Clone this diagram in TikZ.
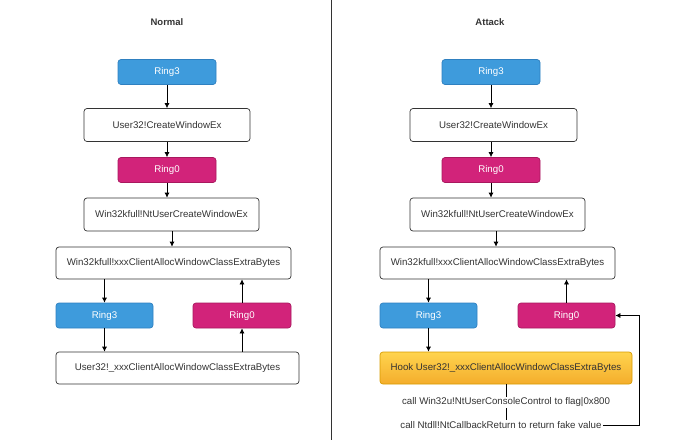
\documentclass[tikz,border=0pt]{standalone}
\usepackage{xcolor}
\usepackage{fontspec}
\setmainfont{Liberation Sans}
\usepackage{tikz}
\usetikzlibrary{shapes,arrows,positioning,calc,arrows.meta}

\definecolor{ringblue}{HTML}{3E9BDC}
\definecolor{ringblueline}{HTML}{2F80C0}
\definecolor{ringmag}{HTML}{D2237A}
\definecolor{ringmagline}{HTML}{A8185E}
\definecolor{hooktop}{HTML}{FFD44E}
\definecolor{hookbot}{HTML}{F4AD2C}
\definecolor{hookline}{HTML}{D79B00}
\definecolor{txtgray}{HTML}{333333}

\begin{document}
\begin{tikzpicture}[
      x=1pt,y=-1pt,
      font=\fontsize{9.7}{11}\selectfont,
      box/.style={rectangle,draw=txtgray,rounded corners=3pt,align=center,
        inner sep=0pt,minimum height=33pt,text=txtgray,line width=0.7pt},
      ringthree/.style={box,fill=ringblue,draw=ringblueline,text=white,
        minimum width=98pt,minimum height=25pt},
      ringzero/.style={box,fill=ringmag,draw=ringmagline,text=white,
        minimum width=98pt,minimum height=25pt},
      hook/.style={box,top color=hooktop,bottom color=hookbot,draw=hookline},
      title/.style={font=\fontsize{9.5}{11}\selectfont\bfseries,text=txtgray},
      lbl/.style={fill=white,inner sep=1pt,text=txtgray},
      arrow/.style={-{Latex[length=5pt,width=5pt]},line width=0.7pt}
      ]

      \useasboundingbox (0,0) rectangle (680,440);

      \draw[line width=0.7pt,txtgray] (331,0) -- (331,440);

      \node[title] (normal) at (167,22) {Normal};
      \node[title] (attack) at (490,22) {Attack};

      \node[ringthree] (n_r3a) at (167,72) {Ring3};
      \node[box,minimum width=166pt] (n_cwe) at (167,125) {User32!CreateWindowEx};
      \node[ringzero] (n_r0a) at (167,170) {Ring0};
      \node[box,minimum width=175pt] (n_nt) at (171.5,214.5) {Win32kfull!NtUserCreateWindowEx};
      \node[box,minimum width=235pt,minimum height=32pt] (n_xxx) at (173.5,263) {Win32kfull!xxxClientAllocWindowClassExtraBytes};
      \node[ringthree,minimum width=97pt] (n_r3b) at (104.5,315.5) {Ring3};
      \node[ringzero] (n_r0b) at (242,315.5) {Ring0};
      \node[box,minimum width=243pt,minimum height=32pt] (n_user) at (177.5,368) {User32!\_xxxClientAllocWindowClassExtraBytes};

      \draw[arrow] (n_r3a) -- (n_cwe);
      \draw[arrow] (n_cwe) -- (n_r0a);
      \draw[arrow] (n_r0a) -- (n_r0a.south |- n_nt.north);
      \draw[arrow] (n_nt.south -| 172,0) -- (n_xxx.north -| 172,0);
      \draw[arrow] (n_r3b.north |- n_xxx.south) -- (n_r3b.north);
      \draw[arrow] (n_r3b.south) -- (n_r3b.south |- n_user.north);
      \draw[arrow] (n_r0b.south |- n_user.north) -- (n_r0b.south);
      \draw[arrow] (n_r0b.north) -- (n_r0b.north |- n_xxx.south);

      \node[ringthree] (a_r3a) at (491,72) {Ring3};
      \node[box,minimum width=167pt] (a_cwe) at (493.5,125) {User32!CreateWindowEx};
      \node[ringzero] (a_r0a) at (491,170) {Ring0};
      \node[box,minimum width=175pt] (a_nt) at (497.5,214.5) {Win32kfull!NtUserCreateWindowEx};
      \node[box,minimum width=235pt,minimum height=32pt] (a_xxx) at (497.5,263) {Win32kfull!xxxClientAllocWindowClassExtraBytes};
      \node[ringthree,minimum width=97pt] (a_r3b) at (428.5,315.5) {Ring3};
      \node[ringzero,minimum width=97pt] (a_r0b) at (566.5,315.5) {Ring0};
      \node[hook,minimum width=252pt,minimum height=32pt] (a_hook) at (506,368) {Hook User32!\_xxxClientAllocWindowClassExtraBytes};
      \node[lbl] (a_ret) at (501,425) {call Ntdll!NtCallbackReturn to return fake value};

      \draw[arrow] (a_r3a.south -| 491,0) -- (a_cwe.north -| 491,0);
      \draw[arrow] (a_cwe.south -| 491,0) -- (a_r0a.north);
      \draw[arrow] (a_r0a) -- (a_r0a.south |- a_nt.north);
      \draw[arrow] (a_nt.south -| 496,0) -- (a_xxx.north -| 496,0);
      \draw[arrow] (a_r3b.north |- a_xxx.south) -- (a_r3b.north);
      \draw[arrow] (a_r3b.south) -- (a_r3b.south |- a_hook.north);
      \draw[arrow] (a_r0b.north) -- (a_r0b.north |- a_xxx.south);
      \draw[line width=0.7pt] (a_hook.south) -- node[lbl] (a_flag) {call Win32u!NtUserConsoleControl to flag|0x800} (a_hook.south |- a_ret.north);
      \draw[arrow] (a_ret.east) -| ([xshift=24pt]a_r0b.east) -- (a_r0b.east);

    \end{tikzpicture}
\end{document}
